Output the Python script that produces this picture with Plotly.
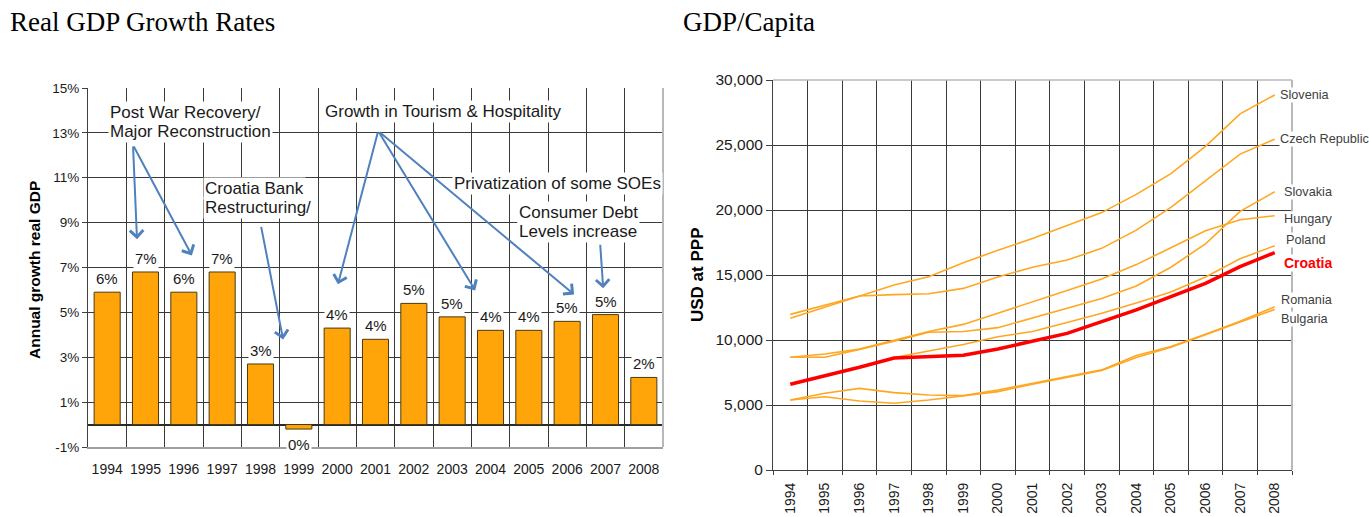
import plotly.graph_objects as go

# ---------------- data ----------------
years = ["1994", "1995", "1996", "1997", "1998", "1999", "2000", "2001",
         "2002", "2003", "2004", "2005", "2006", "2007", "2008"]

growth = [5.9, 6.8, 5.9, 6.8, 2.7, -0.2, 4.3, 3.8, 5.4, 4.8, 4.2, 4.2, 4.6, 4.9, 2.1]
growth_labels = ["6%", "7%", "6%", "7%", "3%", "0%", "4%", "4%", "5%", "5%",
                 "4%", "4%", "5%", "5%", "2%"]
growth_tickvals = [-1, 1, 3, 5, 7, 9, 11, 13, 15]
growth_ticktext = ["-1%", "1%", "3%", "5%", "7%", "9%", "11%", "13%", "15%"]

gdp_slovenia = [11670, 12510, 13380, 14230, 14870, 15950, 16900, 17800, 18800,
                19800, 21200, 22800, 24900, 27400, 28850]
gdp_czech = [11970, 12690, 13380, 13490, 13560, 13970, 14850, 15600, 16150,
             17050, 18450, 20200, 22250, 24300, 25450]
gdp_hungary = [8670, 8920, 9300, 9950, 10650, 11200, 12050, 12900, 13800,
               14700, 15800, 17100, 18400, 19250, 19560]
gdp_slovakia = [8670, 8670, 9280, 9900, 10600, 10650, 10950, 11700, 12450,
                13200, 14150, 15600, 17400, 19900, 21400]
gdp_poland = [6620, 7260, 7910, 8650, 9150, 9650, 10250, 10650, 11350,
              12050, 12850, 13700, 14850, 16250, 17250]
gdp_croatia = [6600, 7250, 7900, 8620, 8740, 8820, 9310, 9930, 10510,
               11410, 12310, 13330, 14360, 15640, 16720]
gdp_romania = [5380, 5900, 6280, 5950, 5770, 5720, 6150, 6650, 7200,
               7700, 8800, 9500, 10450, 11450, 12550]
gdp_bulgaria = [5380, 5640, 5310, 5130, 5380, 5720, 6030, 6600, 7150,
                7650, 8650, 9450, 10400, 11350, 12350]
gdp_tickvals = [0, 5000, 10000, 15000, 20000, 25000, 30000]

others = [
    ("Slovenia", gdp_slovenia),
    ("Czech Republic", gdp_czech),
    ("Slovakia", gdp_slovakia),
    ("Hungary", gdp_hungary),
    ("Poland", gdp_poland),
    ("Romania", gdp_romania),
    ("Bulgaria", gdp_bulgaria),
]

# ---------------- styles ----------------
W, H = 1369, 517
SANS = "Liberation Sans, Arial, sans-serif"
SERIF = "Liberation Serif, Times New Roman, serif"
GRID = "#3a3a3a"
LIGHT = "#b8b8b8"
ORANGE_BAR = "#FFA50A"
ORANGE_LINE = "#FFA722"
ARROW = "#4F81BD"
TXT = "#1a1a1a"


def pxx(x):
    return x / W


def pyy(y):
    return 1 - y / H


fig = go.Figure()

fig.add_trace(go.Bar(
    x=years, y=growth, xaxis="x", yaxis="y", width=0.68,
    marker=dict(color=ORANGE_BAR, line=dict(color="#4a3a10", width=1)),
    showlegend=False, hoverinfo="skip",
))

for name, vals in others:
    fig.add_trace(go.Scatter(
        x=years, y=vals, mode="lines", name=name, xaxis="x2", yaxis="y2",
        line=dict(color=ORANGE_LINE, width=1.6), showlegend=False,
    ))
fig.add_trace(go.Scatter(
    x=years, y=gdp_croatia, mode="lines", name="Croatia", xaxis="x2", yaxis="y2",
    line=dict(color="#FF0000", width=3.5), showlegend=False,
))

annotations = []

# chart titles
annotations.append(dict(xref="paper", yref="paper", x=pxx(8), y=pyy(22),
                        xanchor="left", yanchor="middle", showarrow=False,
                        text="Real GDP Growth Rates",
                        font=dict(family=SERIF, size=27, color="#000")))
annotations.append(dict(xref="paper", yref="paper", x=pxx(681), y=pyy(22),
                        xanchor="left", yanchor="middle", showarrow=False,
                        text="GDP/Capita",
                        font=dict(family=SERIF, size=27, color="#000")))

# axis titles
annotations.append(dict(xref="paper", yref="paper", x=pxx(34), y=pyy(270),
                        xanchor="center", yanchor="middle", showarrow=False,
                        textangle=-90, text="<b>Annual growth real GDP</b>",
                        font=dict(family=SANS, size=15.5, color="#000")))
annotations.append(dict(xref="paper", yref="paper", x=pxx(697), y=pyy(275),
                        xanchor="center", yanchor="middle", showarrow=False,
                        textangle=-90, text="<b>USD at PPP</b>",
                        font=dict(family=SANS, size=17, color="#000")))

# bar value labels (x given as category index)
for i, (v, lab) in enumerate(zip(growth, growth_labels)):
    if v >= 0:
        annotations.append(dict(xref="x", yref="y", x=i, y=v, text=lab,
                                showarrow=False, yanchor="bottom", yshift=3,
                                bgcolor="white", borderpad=1,
                                font=dict(family=SANS, size=15, color=TXT)))
    else:
        annotations.append(dict(xref="x", yref="y", x=i, y=v, text=lab,
                                showarrow=False, yanchor="top", yshift=-5,
                                bgcolor="white", borderpad=1,
                                font=dict(family=SANS, size=15, color=TXT)))

# explanatory text boxes (lower lines first so upper boxes don't hide descenders)
notes = [
    ("Major Reconstruction", 0.02, 13.08),
    ("Restructuring/", 2.50, 9.69),
    ("Levels increase", 10.68, 8.60),
    ("Post War Recovery/", 0.02, 13.93),
    ("Croatia Bank", 2.50, 10.54),
    ("Consumer Debt", 10.68, 9.43),
    ("Growth in Tourism & Hospitality", 5.63, 13.94),
    ("Privatization of some SOEs", 8.99, 10.75),
]
for t, nx, ny in notes:
    annotations.append(dict(xref="x", yref="y", x=nx, y=ny, text=t,
                            showarrow=False, xanchor="left", yanchor="middle",
                            bgcolor="white", borderpad=1,
                            font=dict(family=SANS, size=17, color=TXT)))

# arrows: (tail x, tail y, head x, head y) in axis units
arrows = [
    (0.674, 12.46, 0.778, 8.26),
    (0.674, 12.46, 2.21, 7.54),
    (4.01, 8.88, 4.59, 3.79),
    (7.07, 13.08, 6.02, 6.25),
    (7.07, 13.08, 9.60, 5.98),
    (7.07, 13.08, 12.18, 5.80),
    (12.86, 8.08, 12.94, 6.07),
]
for tx, ty, hx, hy in arrows:
    annotations.append(dict(xref="x", yref="y", axref="x", ayref="y",
                            x=hx, y=hy, ax=tx, ay=ty, text="", showarrow=True,
                            arrowhead=4, arrowsize=1.3, arrowwidth=2,
                            arrowcolor=ARROW, standoff=0, startstandoff=0))

# end-of-line country labels (right chart)
end_labels = [
    ("Slovenia", gdp_slovenia, 4, 0, False),
    ("Czech Republic", gdp_czech, 4, 0, False),
    ("Slovakia", gdp_slovakia, 8, 0, False),
    ("Hungary", gdp_hungary, 8, -3, False),
    ("Poland", gdp_poland, 10, 6, False),
    ("Croatia", gdp_croatia, 8, -10, True),
    ("Romania", gdp_romania, 5, 7, False),
    ("Bulgaria", gdp_bulgaria, 5, -10, False),
]
last = len(years) - 1
for name, vals, xs, ys, bold in end_labels:
    annotations.append(dict(
        xref="x2", yref="y2", x=last, y=vals[-1],
        text=("<b>%s</b>" % name) if bold else name,
        showarrow=False, xanchor="left", yanchor="middle",
        xshift=xs, yshift=ys, bgcolor="white", borderpad=0,
        font=dict(family=SANS, size=14 if bold else 12.7,
                  color="#FF0000" if bold else "#404040")))

shapes = [
    dict(type="line", xref="x domain", yref="y domain", x0=1, x1=1, y0=0, y1=1,
         line=dict(color=LIGHT, width=2), layer="above"),
    dict(type="line", xref="x2 domain", yref="y2 domain", x0=1, x1=1, y0=0, y1=1,
         line=dict(color=LIGHT, width=2), layer="above"),
    dict(type="line", xref="x2 domain", yref="y2 domain", x0=0, x1=1, y0=1, y1=1,
         line=dict(color=LIGHT, width=1.5), layer="above"),
]

fig.update_layout(
    width=W, height=H, autosize=False,
    margin=dict(l=0, r=0, t=0, b=0, pad=0, autoexpand=False),
    paper_bgcolor="white", plot_bgcolor="white",
    showlegend=False,
    xaxis=dict(
        domain=[pxx(88), pxx(663)], anchor="y", type="category",
        tickson="boundaries", showgrid=True, gridcolor=GRID, gridwidth=1,
        showline=True, linecolor="#a0a0a0", linewidth=1.5,
        ticks="", ticklabelstandoff=8, tickangle=0, automargin=False,
        tickfont=dict(family=SANS, size=14, color=TXT),
        range=[-0.5, 14.5], fixedrange=True,
    ),
    yaxis=dict(
        domain=[pyy(447), pyy(88)], anchor="x", automargin=False,
        range=[-1, 15], tickvals=growth_tickvals, ticktext=growth_ticktext,
        showgrid=True, gridcolor=GRID, gridwidth=1,
        zeroline=True, zerolinecolor="#2a2a2a", zerolinewidth=1.5,
        showline=True, linecolor="#404040", linewidth=1,
        ticks="outside", ticklen=5, tickcolor="#404040",
        tickfont=dict(family=SANS, size=13.5, color=TXT),
        fixedrange=True,
    ),
    xaxis2=dict(
        domain=[pxx(773), pxx(1292)], anchor="y2", type="category",
        tickson="boundaries", showgrid=True, gridcolor=GRID, gridwidth=1,
        showline=True, linecolor="#404040", linewidth=1,
        ticks="outside", ticklen=4, tickcolor="#404040",
        tickangle=-90, ticklabelstandoff=6, automargin=False,
        tickfont=dict(family=SANS, size=14, color=TXT),
        range=[-0.5, 14.5], fixedrange=True,
    ),
    yaxis2=dict(
        domain=[pyy(470), pyy(80)], anchor="x2", automargin=False,
        range=[0, 30000], tickvals=gdp_tickvals, tickformat=",",
        showgrid=True, gridcolor=GRID, gridwidth=1,
        zeroline=False,
        showline=True, linecolor="#404040", linewidth=1,
        ticks="outside", ticklen=6, tickcolor="#404040",
        tickfont=dict(family=SANS, size=15.5, color=TXT),
        fixedrange=True,
    ),
    annotations=annotations,
    shapes=shapes,
)

fig.write_html(
    "out.html",
    config={"displayModeBar": False},
    post_script="document.body.style.margin='0';document.body.style.overflow='hidden';",
)
